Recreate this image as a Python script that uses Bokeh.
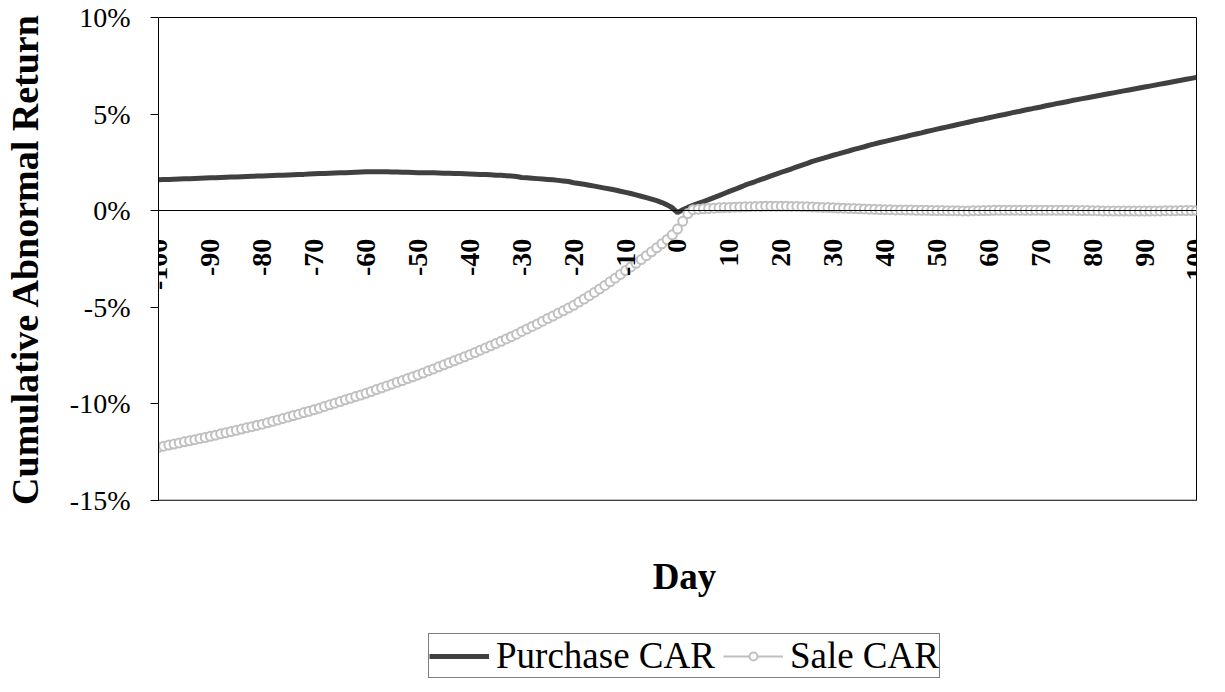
import math
from bokeh.plotting import figure
from bokeh.layouts import column
from bokeh.models import (Range1d, FixedTicker, Legend, LegendItem, Label, Span)
from bokeh.embed import file_html
from bokeh.resources import INLINE

days = list(range(-100, 101))

purchase_car = [
    1.60, 1.61, 1.62, 1.63, 1.64, 1.65, 1.66, 1.67, 1.68, 1.69,
    1.70, 1.71, 1.72, 1.73, 1.74, 1.75, 1.76, 1.77, 1.78, 1.79,
    1.80, 1.81, 1.82, 1.83, 1.84, 1.85, 1.86, 1.87, 1.88, 1.90,
    1.91, 1.92, 1.93, 1.94, 1.95, 1.96, 1.97, 1.98, 1.99, 2.00,
    2.01, 2.02, 2.02, 2.01, 2.01, 2.00, 2.00, 1.99, 1.99, 1.98,
    1.97, 1.97, 1.96, 1.96, 1.95, 1.94, 1.94, 1.93, 1.92, 1.91,
    1.90, 1.89, 1.88, 1.87, 1.86, 1.84, 1.83, 1.81, 1.79, 1.77,
    1.72, 1.70, 1.68, 1.66, 1.64, 1.62, 1.60, 1.57, 1.54, 1.51,
    1.45, 1.41, 1.37, 1.32, 1.27, 1.22, 1.17, 1.12, 1.07, 1.01,
    0.95, 0.89, 0.82, 0.75, 0.68, 0.60, 0.52, 0.42, 0.30, 0.15,
    -0.10,
    0.05, 0.17, 0.28, 0.38, 0.47, 0.57, 0.68, 0.78, 0.89, 1.00,
    1.10, 1.21, 1.32, 1.42, 1.51, 1.61, 1.70, 1.80, 1.89, 1.99,
    2.08, 2.17, 2.27, 2.36, 2.45, 2.55, 2.63, 2.71, 2.79, 2.87,
    2.94, 3.02, 3.09, 3.17, 3.24, 3.31, 3.39, 3.46, 3.53, 3.59,
    3.65, 3.72, 3.78, 3.84, 3.91, 3.97, 4.03, 4.10, 4.16, 4.22,
    4.28, 4.34, 4.40, 4.46, 4.52, 4.58, 4.64, 4.70, 4.75, 4.81,
    4.87, 4.93, 4.98, 5.04, 5.10, 5.15, 5.21, 5.26, 5.32, 5.37,
    5.43, 5.48, 5.54, 5.59, 5.64, 5.70, 5.75, 5.80, 5.85, 5.90,
    5.95, 6.00, 6.05, 6.10, 6.15, 6.20, 6.25, 6.30, 6.35, 6.40,
    6.45, 6.50, 6.55, 6.60, 6.65, 6.70, 6.75, 6.80, 6.85, 6.90,
]

sale_car = [
    -12.25, -12.19, -12.13, -12.08, -12.02, -11.96, -11.91, -11.85, -11.79, -11.74,
    -11.68, -11.62, -11.55, -11.49, -11.43, -11.37, -11.30, -11.24, -11.18, -11.11,
    -11.05, -10.98, -10.90, -10.83, -10.75, -10.68, -10.60, -10.53, -10.45, -10.38,
    -10.30, -10.22, -10.13, -10.05, -9.96, -9.88, -9.79, -9.71, -9.62, -9.54,
    -9.45, -9.36, -9.26, -9.17, -9.07, -8.98, -8.88, -8.79, -8.69, -8.60,
    -8.50, -8.40, -8.29, -8.19, -8.08, -7.98, -7.87, -7.77, -7.66, -7.56,
    -7.45, -7.34, -7.22, -7.11, -6.99, -6.88, -6.76, -6.64, -6.52, -6.39,
    -6.25, -6.12, -5.99, -5.86, -5.72, -5.58, -5.45, -5.31, -5.18, -5.04,
    -4.90, -4.73, -4.57, -4.40, -4.23, -4.05, -3.87, -3.68, -3.49, -3.30,
    -3.10, -2.91, -2.72, -2.53, -2.33, -2.13, -1.92, -1.71, -1.49, -1.25,
    -0.95,
    -0.55, -0.15, 0.05, 0.08, 0.10, 0.12, 0.13, 0.15, 0.16, 0.17,
    0.18, 0.19, 0.20, 0.21, 0.22, 0.22, 0.23, 0.23, 0.23, 0.23,
    0.23, 0.22, 0.22, 0.21, 0.20, 0.19, 0.18, 0.17, 0.16, 0.15,
    0.14, 0.13, 0.12, 0.11, 0.10, 0.09, 0.08, 0.07, 0.06, 0.05,
    0.05, 0.04, 0.04, 0.03, 0.03, 0.02, 0.02, 0.02, 0.01, 0.01,
    0.01, 0.00, 0.00, 0.00, -0.01, -0.01, 0.00, 0.00, 0.01, 0.01,
    0.02, 0.02, 0.02, 0.02, 0.02, 0.02, 0.02, 0.02, 0.02, 0.02,
    0.02, 0.02, 0.02, 0.02, 0.02, 0.02, 0.01, 0.01, 0.01, 0.00,
    0.00, -0.01, -0.01, -0.02, -0.02, -0.02, -0.02, -0.02, -0.02, -0.02,
    -0.02, -0.01, -0.01, 0.00, 0.00, 0.00, 0.01, 0.01, 0.01, 0.01,
]

x_ticks = list(range(-100, 101, 10))
x_tick_labels = {t: str(t) for t in x_ticks}
y_ticks = [-15, -10, -5, 0, 5, 10]
y_tick_labels = {v: f"{v}%" for v in y_ticks}

FONT = "Liberation Serif"
DARK = "#404040"
LIGHT = "#c0c0c0"

# ---------------- main plot ----------------
p = figure(width=1217, height=528, output_backend="svg", toolbar_location=None,
           x_range=Range1d(-100, 100), y_range=Range1d(-15, 10),
           min_border_left=156, min_border_right=21, min_border_top=17,
           min_border_bottom=28)
p.grid.visible = False
p.outline_line_color = "black"
p.outline_line_width = 1
p.background_fill_color = "white"
p.border_fill_color = "white"

ya = p.yaxis[0]
ya.ticker = FixedTicker(ticks=y_ticks)
ya.major_label_overrides = y_tick_labels
ya.major_label_text_font = FONT
ya.major_label_text_font_size = "28px"
ya.major_label_text_color = "black"
ya.major_tick_out = 8
ya.major_tick_in = 0
ya.minor_tick_line_color = None
ya.major_label_standoff = 20
ya.axis_line_color = "black"
ya.axis_label = "Cumulative Abnormal Return"
ya.axis_label_text_font = FONT
ya.axis_label_text_font_style = "bold"
ya.axis_label_text_font_size = "38px"
ya.axis_label_text_color = "black"
ya.axis_label_standoff = 21

xa = p.xaxis[0]
xa.fixed_location = 0
xa.ticker = FixedTicker(ticks=x_ticks)
xa.major_label_overrides = x_tick_labels
xa.major_label_orientation = math.pi / 2
xa.major_label_text_font = FONT
xa.major_label_text_font_style = "bold"
xa.major_label_text_font_size = "28px"
xa.major_label_text_color = "black"
xa.major_tick_line_color = None
xa.major_tick_out = 0
xa.major_tick_in = 0
xa.minor_tick_line_color = None
xa.major_label_standoff = 28
xa.axis_line_color = "black"

p.add_layout(Span(location=-15, dimension="width", line_color="#808080", line_width=2))

r_p = p.line(days, purchase_car, line_color=DARK, line_width=5)
r_sl = p.line(days, sale_car, line_color=LIGHT, line_width=2)
r_sm = p.scatter(days, sale_car, marker="circle", size=9, line_color=LIGHT,
                 line_width=2, fill_color="white")

# ---------------- axis title + legend strip ----------------
q = figure(width=1217, height=156, output_backend="svg", toolbar_location=None,
           x_range=Range1d(-100, 100), y_range=Range1d(0, 156),
           x_axis_location=None, y_axis_location=None, min_border=0)
q.grid.visible = False
q.outline_line_color = None
q.border_fill_color = "white"

q.add_layout(Label(x=0, y=108, x_offset=7, text="Day", text_align="center",
                   text_baseline="alphabetic", text_font=FONT, text_font_style="bold",
                   text_font_size="37px", text_color="black"))

k_p = q.line([-120, -110], [-20, -20], line_color=DARK, line_width=5)
k_sl = q.line([-120, -110], [-20, -20], line_color=LIGHT, line_width=2)
k_sm = q.scatter([-115], [-20], marker="circle", size=9, line_color=LIGHT,
                 line_width=2, fill_color="white")

legend = Legend(items=[LegendItem(label="Purchase CAR", renderers=[k_p]),
                       LegendItem(label="Sale CAR", renderers=[k_sl, k_sm])],
                orientation="horizontal", location=(270, 6),
                label_text_font=FONT, label_text_font_size="37px",
                label_text_color="black",
                glyph_width=60, glyph_height=20, spacing=8, padding=0,
                margin=0, label_standoff=7,
                border_line_color="black", border_line_width=1,
                background_fill_alpha=1)
q.add_layout(legend, "center")

open("out.html", "w").write(file_html(column(p, q, spacing=0), INLINE))
